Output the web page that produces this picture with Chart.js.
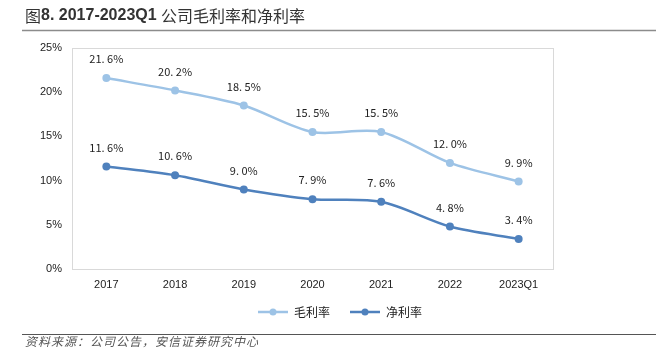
<!DOCTYPE html>
<html>
<head>
<meta charset="utf-8">
<script src="https://cdn.jsdelivr.net/npm/chart.js@4"></script>
<style>
  html, body { margin: 0; padding: 0; background: #fff; }
  #wrap { width: 656px; height: 358px; }
</style>
</head>
<body>
<div id="wrap"><canvas id="myChart" width="656" height="358"></canvas></div>
<script>
const categories = ['2017', '2018', '2019', '2020', '2021', '2022', '2023Q1'];
const grossMargin = [21.6, 20.2, 18.5, 15.5, 15.5, 12.0, 9.9];
const netMargin = [11.6, 10.6, 9.0, 7.9, 7.6, 4.8, 3.4];
const yTicks = [0, 5, 10, 15, 20, 25];
const seriesNames = ['毛利率', '净利率'];

// title in pieces: [text, bold]
const titleParts = [['图', false], ['8. 2017-2023Q1 ', true], ['公司毛利率和净利率', false]];
const sourceText = '资料来源：公司公告，安信证券研究中心';

const lightBlue = '#9dc3e6';
const darkBlue = '#4f81bd';

// title, footer, frame, point labels and legend
const decor = {
    id: 'decor',
    beforeDatasetsDraw(chart) {
        const c = chart.ctx;
        const a = chart.chartArea;
        c.save();
        c.strokeStyle = '#d9d9d9';
        c.lineWidth = 1;
        c.strokeRect(a.left + 0.5, a.top + 0.5, a.right - a.left, a.bottom - a.top);
        c.restore();
    },
    afterDraw(chart) {
        const c = chart.ctx;
        c.save();
        // title
        c.fillStyle = '#333';
        c.textBaseline = 'middle';
        let tx = 25;
        titleParts.forEach(([t, b]) => {
            c.font = b ? 'bold 16px "Liberation Sans", sans-serif'
                       : '16px "Noto Sans CJK SC", sans-serif';
            c.fillText(t, tx, 16);
            tx += c.measureText(t).width;
        });
        c.strokeStyle = '#8c8c8c';
        c.lineWidth = 1.5;
        c.beginPath();
        c.moveTo(22, 30.5);
        c.lineTo(656, 30.5);
        c.stroke();

        // footer
        c.strokeStyle = '#555';
        c.lineWidth = 1;
        c.beginPath();
        c.moveTo(22, 334.5);
        c.lineTo(656, 334.5);
        c.stroke();
        c.fillStyle = '#555';
        c.font = 'italic 12px "Noto Sans CJK SC", sans-serif';
        c.letterSpacing = '1px';
        c.fillText(sourceText, 25, 341);
        c.letterSpacing = '0px';

        // value labels
        c.fillStyle = '#222';
        c.font = '11px "Noto Sans CJK SC", sans-serif';
        c.textAlign = 'center';
        c.textBaseline = 'middle';
        chart.data.datasets.forEach((ds, i) => {
            chart.getDatasetMeta(i).data.forEach((pt, j) => {
                const txt = ds.data[j].toFixed(1).replace('.', '. ') + '%';
                c.fillText(txt, pt.x, pt.y - 19);
            });
        });

        // legend
        const items = chart.data.datasets;
        let x = 258;
        const y = 312;
        c.textAlign = 'left';
        c.font = '12px "Noto Sans CJK SC", sans-serif';
        items.forEach(ds => {
            c.strokeStyle = ds.borderColor;
            c.lineWidth = 2.5;
            c.beginPath();
            c.moveTo(x, y);
            c.lineTo(x + 30, y);
            c.stroke();
            c.fillStyle = ds.backgroundColor;
            c.beginPath();
            c.arc(x + 15, y, 3.5, 0, Math.PI * 2);
            c.fill();
            c.fillStyle = '#222';
            c.fillText(ds.label, x + 36, y);
            x += 36 + c.measureText(ds.label).width + 20;
        });
        c.restore();
    }
};

document.addEventListener('DOMContentLoaded', () => {
    const ctx = document.getElementById('myChart');

    new Chart(ctx, {
        type: 'line',
        data: {
            labels: categories,
            datasets: [{
                label: seriesNames[0],
                data: grossMargin,
                borderColor: lightBlue,
                backgroundColor: lightBlue,
                borderWidth: 2.5,
                pointRadius: 4,
                pointBorderWidth: 0,
                tension: 0.3
            }, {
                label: seriesNames[1],
                data: netMargin,
                borderColor: darkBlue,
                backgroundColor: darkBlue,
                borderWidth: 2.5,
                pointRadius: 4,
                pointBorderWidth: 0,
                tension: 0.3
            }]
        },
        options: {
            responsive: false,
            animation: false,
            layout: { padding: { left: 0, right: 103, top: 48, bottom: 59 } },
            plugins: {
                legend: { display: false },
                tooltip: { enabled: false }
            },
            scales: {
                x: {
                    offset: true,
                    grid: { display: false, drawTicks: false },
                    border: { display: false },
                    ticks: {
                        color: '#222',
                        font: { family: '"Liberation Sans", Arial, sans-serif', size: 11 },
                        padding: 9,
                        maxRotation: 0
                    },
                    afterFit: s => { s.height = 30; }
                },
                y: {
                    min: 0,
                    max: 25,
                    grid: { display: false, drawTicks: false },
                    border: { display: false },
                    afterBuildTicks: s => { s.ticks = yTicks.map(v => ({ value: v })); },
                    ticks: {
                        color: '#222',
                        font: { family: '"Liberation Sans", Arial, sans-serif', size: 11 },
                        padding: 10,
                        callback: v => v + '%'
                    },
                    afterFit: s => { s.width = 72; }
                }
            }
        },
        plugins: [decor]
    });
});
</script>
</body>
</html>
